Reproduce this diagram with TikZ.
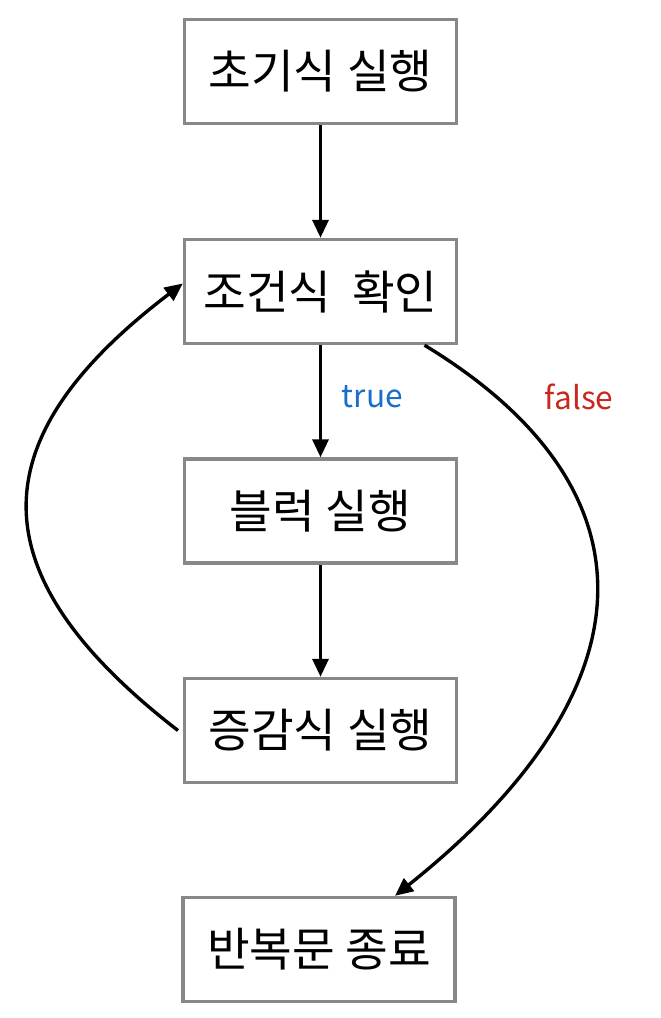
\documentclass[tikz,border=0pt]{standalone}
\usepackage{fontspec}
\setmainfont{Noto Sans CJK KR}
\usetikzlibrary{arrows.meta}
\definecolor{boxgray}{RGB}{134,136,140}
\definecolor{truecolor}{RGB}{24,110,200}
\definecolor{falsecolor}{RGB}{200,40,30}

\begin{document}
\begin{tikzpicture}[x=0.025cm, y=-0.025cm,
	stepbox/.style={draw=boxgray, line width=2.4pt, minimum width=6.8cm, minimum height=2.6cm, inner sep=0pt, font=\fontsize{33}{38}\selectfont},
	flow/.style={-{Triangle[length=0.45cm, width=0.4cm]}, line width=2.4pt},
	branch/.style={font=\fontsize{22.5}{26}\selectfont}]
	\useasboundingbox (0, 0) rectangle (660, 1018);

	\node[stepbox] (init) at (320.5, 71.5) {초기식 실행};
	\node[stepbox] (cond) at (320.5, 291.5) {조건식~ 확인};
	\node[stepbox] (body) at (320.5, 511) {블럭 실행};
	\node[stepbox] (incr) at (320.5, 730.5) {증감식 실행};
	\node[stepbox] (stop) at (319, 949.5) {반복문 종료};

	\node[branch, text=truecolor, anchor=west] (yes) at (337, 397) {true};
	\node[branch, text=falsecolor] (no) at (579, 397) {false};

	\draw[flow] (init) -- (cond);
	\draw[flow] (cond) -- (body);
	\draw[flow] (body) -- (incr);

	% back to the condition
	\draw[flow] ([xshift=-0.12cm]incr.west) .. controls (-23, 575) and (-23, 440) .. ([yshift=0.2cm]cond.west);

	% leave the loop
	\draw[flow] ([xshift=2.6cm]cond.south) .. controls (663, 490) and (653, 690) .. ([xshift=1.9cm]stop.north);
\end{tikzpicture}
\end{document}
